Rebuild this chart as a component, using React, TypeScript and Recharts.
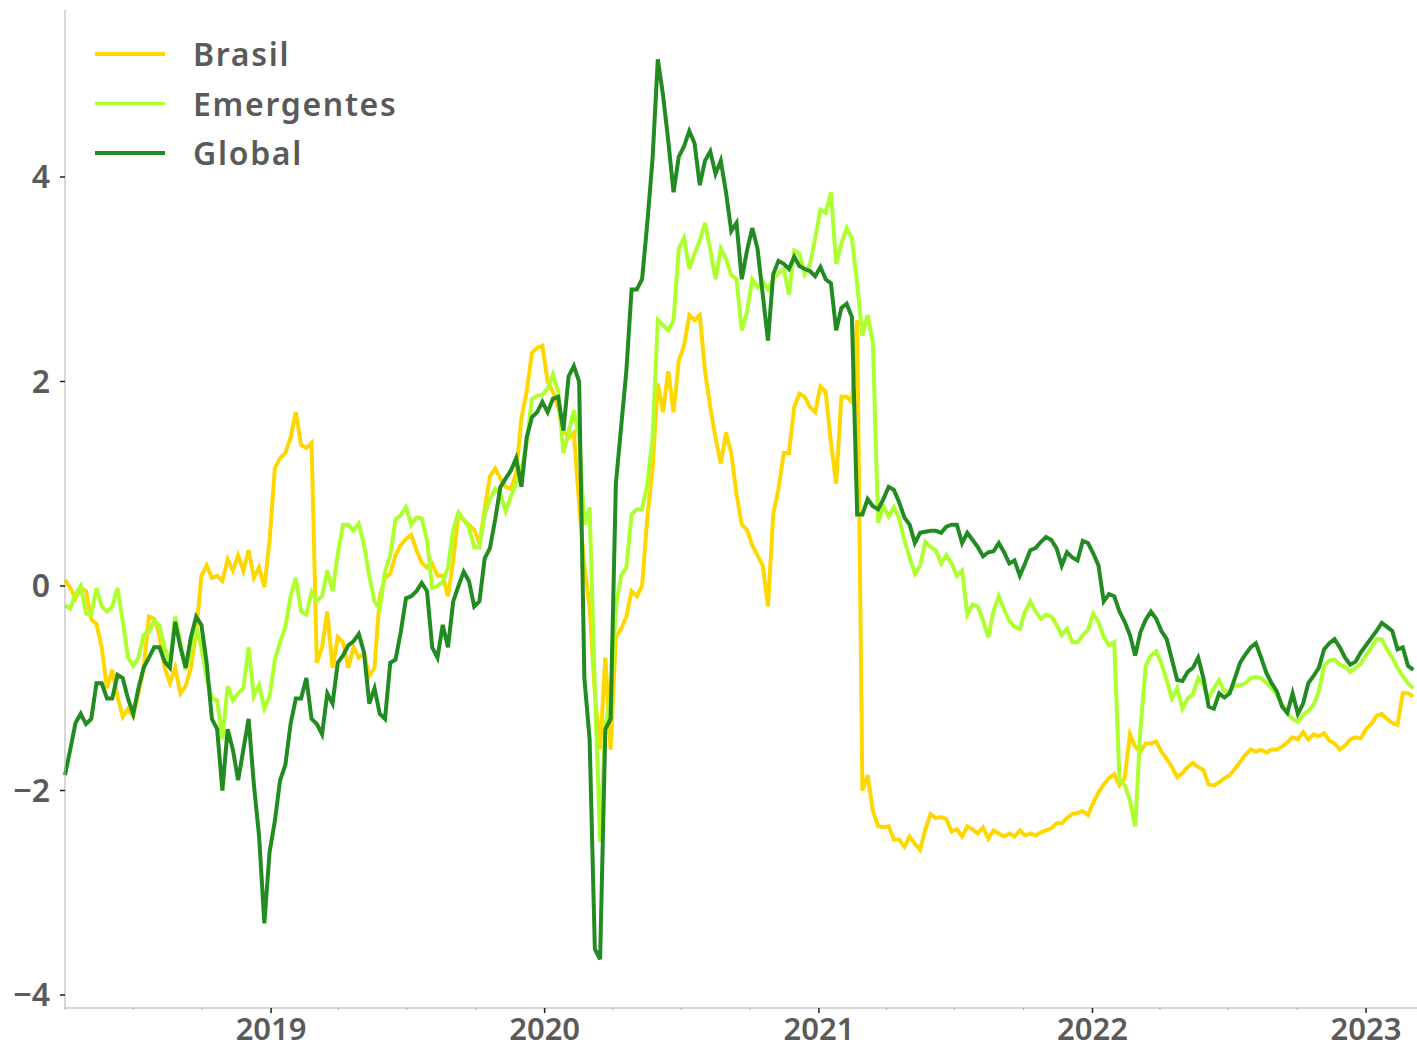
import React from 'react';
import { LineChart, Line, XAxis, YAxis, Legend } from 'recharts';

// weekly observations, first one on 2018-04-01
const brasil = [
  0.06, -0.02, -0.12, -0.02, -0.05, -0.33, -0.37, -0.6, -1.0, -0.82,
  -1.08, -1.28, -1.2, -1.27, -1.05, -0.8, -0.3, -0.32, -0.48, -0.8,
  -0.95, -0.8, -1.05, -0.98, -0.8, -0.45, 0.1, 0.2, 0.08, 0.1,
  0.05, 0.26, 0.15, 0.3, 0.15, 0.35, 0.08, 0.18, -0.01, 0.45,
  1.15, 1.25, 1.3, 1.45, 1.7, 1.38, 1.35, 1.4, -0.75, -0.6,
  -0.25, -0.8, -0.5, -0.55, -0.8, -0.6, -0.7, -0.66, -0.88, -0.8,
  -0.1, 0.08, 0.12, 0.3, 0.4, 0.46, 0.5, 0.35, 0.23, 0.18,
  0.22, 0.1, 0.1, -0.1, 0.25, 0.7, 0.64, 0.6, 0.55, 0.42,
  0.75, 1.07, 1.15, 1.05, 0.97, 0.95, 1.1, 1.64, 1.9, 2.28,
  2.33, 2.35, 2.0, 1.9, 1.75, 1.52, 1.45, 1.5, 0.8, 0.2,
  -0.2, -1.05, -1.6, -0.7, -1.6, -0.5, -0.42, -0.3, -0.05, -0.1,
  0.0, 0.67, 1.15, 1.98, 1.7, 2.1, 1.7, 2.2, 2.35, 2.65,
  2.6, 2.65, 2.1, 1.75, 1.45, 1.2, 1.5, 1.3, 0.9, 0.6,
  0.55, 0.4, 0.3, 0.2, -0.2, 0.7, 0.95, 1.3, 1.3, 1.75,
  1.88, 1.85, 1.75, 1.7, 1.95, 1.9, 1.4, 1.0, 1.85, 1.85,
  1.8, 2.6, -2.0, -1.85, -2.2, -2.35, -2.36, -2.35, -2.48, -2.48,
  -2.55, -2.45, -2.52, -2.58, -2.38, -2.23, -2.27, -2.26, -2.28, -2.4,
  -2.38, -2.45, -2.35, -2.38, -2.42, -2.36, -2.47, -2.39, -2.42, -2.45,
  -2.42, -2.45, -2.39, -2.44, -2.42, -2.44, -2.41, -2.39, -2.37, -2.32,
  -2.32, -2.27, -2.23, -2.22, -2.2, -2.24, -2.12, -2.02, -1.94, -1.88,
  -1.84, -1.95, -1.88, -1.45, -1.57, -1.62, -1.54, -1.54, -1.52, -1.62,
  -1.69, -1.77, -1.87, -1.83, -1.77, -1.73, -1.77, -1.8, -1.94, -1.95,
  -1.92, -1.88, -1.85, -1.79, -1.72, -1.65, -1.6, -1.62, -1.6, -1.63,
  -1.6, -1.6, -1.57, -1.53, -1.48, -1.5, -1.43, -1.5, -1.45, -1.47,
  -1.44, -1.51, -1.54, -1.6, -1.56, -1.5, -1.48, -1.49, -1.4, -1.35,
  -1.27, -1.25, -1.3, -1.34, -1.36, -1.05, -1.05, -1.08,
];

const emergentes = [
  -0.19, -0.22, -0.08, 0.0, -0.27, -0.28, -0.02, -0.2, -0.25, -0.2,
  -0.02, -0.34, -0.7, -0.78, -0.7, -0.48, -0.45, -0.34, -0.39, -0.6,
  -0.76, -0.3, -0.55, -0.82, -0.63, -0.4, -0.6, -0.9, -1.1, -1.12,
  -1.5, -0.98, -1.12, -1.05, -1.0, -0.6, -1.08, -0.97, -1.2, -1.08,
  -0.72, -0.55, -0.4, -0.1, 0.08, -0.25, -0.28, -0.06, -0.14, -0.1,
  0.15, -0.05, 0.32, 0.6, 0.6, 0.54, 0.61, 0.4, 0.1, -0.15,
  -0.22, 0.14, 0.3, 0.65, 0.69, 0.77, 0.6, 0.67, 0.66, 0.45,
  -0.02, 0.0, 0.04, 0.18, 0.55, 0.72, 0.65, 0.57, 0.38, 0.38,
  0.7, 0.85, 0.95, 0.9, 0.73, 0.88, 1.0, 1.14, 1.4, 1.83,
  1.86, 1.87, 1.93, 2.07, 1.9, 1.3, 1.5, 1.72, 1.45, 0.6,
  0.77, -1.0, -2.5, -1.35, -1.1, -0.2, 0.1, 0.18, 0.7, 0.75,
  0.75, 1.0, 1.45, 2.6, 2.55, 2.5, 2.6, 3.3, 3.4, 3.1,
  3.25, 3.38, 3.55, 3.29, 3.0, 3.3, 3.2, 3.04, 3.0, 2.5,
  2.68, 3.0, 2.92, 2.98, 2.9, 3.0, 3.06, 3.1, 2.85, 3.28,
  3.25, 3.05, 3.15, 3.4, 3.68, 3.65, 3.85, 3.15, 3.35, 3.5,
  3.4, 2.95, 2.45, 2.65, 2.38, 0.62, 0.78, 0.68, 0.77, 0.66,
  0.45, 0.28, 0.12, 0.2, 0.43, 0.38, 0.35, 0.22, 0.3, 0.22,
  0.1, 0.15, -0.28, -0.18, -0.2, -0.34, -0.5, -0.24, -0.1, -0.23,
  -0.34, -0.4, -0.42, -0.25, -0.15, -0.25, -0.32, -0.28, -0.3, -0.38,
  -0.48, -0.42, -0.55, -0.55, -0.48, -0.43, -0.27, -0.35, -0.5, -0.58,
  -0.55, -1.9, -1.95, -2.1, -2.35, -1.4, -0.78, -0.68, -0.64, -0.76,
  -0.92, -1.1, -1.0, -1.2, -1.1, -1.06, -0.9, -0.97, -1.1, -1.0,
  -0.92, -1.03, -1.03, -0.97, -0.97, -0.95, -0.9, -0.89, -0.9, -0.95,
  -1.0, -1.06, -1.16, -1.25, -1.3, -1.33, -1.26, -1.22, -1.16, -1.03,
  -0.78, -0.73, -0.72, -0.77, -0.79, -0.84, -0.8, -0.76, -0.68, -0.6,
  -0.52, -0.52, -0.62, -0.7, -0.8, -0.88, -0.95, -1.0,
];

const global = [
  -1.85, -1.6, -1.34, -1.25, -1.35, -1.3, -0.95, -0.95, -1.1, -1.1,
  -0.87, -0.9, -1.1, -1.25, -1.0, -0.8, -0.7, -0.6, -0.6, -0.74,
  -0.8, -0.35, -0.6, -0.8, -0.5, -0.3, -0.38, -0.75, -1.3, -1.4,
  -2.0, -1.4, -1.6, -1.9, -1.6, -1.3, -1.94, -2.45, -3.3, -2.6,
  -2.3, -1.9, -1.75, -1.35, -1.1, -1.1, -0.9, -1.3, -1.35, -1.45,
  -1.05, -1.15, -0.75, -0.68, -0.58, -0.54, -0.47, -0.65, -1.15, -1.0,
  -1.25, -1.3, -0.75, -0.72, -0.45, -0.12, -0.1, -0.05, 0.03, -0.05,
  -0.6, -0.7, -0.38, -0.6, -0.15, 0.0, 0.14, 0.05, -0.2, -0.15,
  0.27, 0.37, 0.65, 0.97, 1.05, 1.13, 1.25, 0.97, 1.45, 1.65,
  1.7, 1.8, 1.7, 1.83, 1.85, 1.52, 2.05, 2.15, 2.0, -0.9,
  -1.5, -3.55, -3.65, -1.4, -1.3, 1.0, 1.55, 2.1, 2.9, 2.9,
  3.0, 3.55, 4.18, 5.15, 4.8, 4.35, 3.85, 4.2, 4.3, 4.45,
  4.33, 3.92, 4.16, 4.25, 4.03, 4.16, 3.85, 3.47, 3.55, 3.0,
  3.28, 3.5, 3.3, 2.85, 2.4, 3.05, 3.18, 3.15, 3.1, 3.22,
  3.13, 3.1, 3.08, 3.03, 3.12, 3.0, 2.96, 2.5, 2.72, 2.76,
  2.63, 0.7, 0.7, 0.85, 0.78, 0.75, 0.85, 0.97, 0.94, 0.82,
  0.67, 0.6, 0.42, 0.52, 0.53, 0.54, 0.54, 0.52, 0.58, 0.6,
  0.6, 0.42, 0.52, 0.45, 0.38, 0.29, 0.33, 0.34, 0.42, 0.33,
  0.22, 0.25, 0.1, 0.22, 0.35, 0.37, 0.43, 0.48, 0.45, 0.37,
  0.2, 0.33, 0.28, 0.25, 0.44, 0.42, 0.32, 0.2, -0.15, -0.08,
  -0.1, -0.25, -0.35, -0.48, -0.68, -0.45, -0.33, -0.25, -0.32, -0.44,
  -0.52, -0.72, -0.92, -0.93, -0.84, -0.8, -0.7, -0.9, -1.18, -1.2,
  -1.05, -1.09, -1.05, -0.9, -0.75, -0.67, -0.6, -0.56, -0.7, -0.85,
  -0.95, -1.03, -1.18, -1.24, -1.05, -1.25, -1.15, -0.95, -0.88, -0.8,
  -0.62, -0.56, -0.52, -0.6, -0.7, -0.77, -0.74, -0.65, -0.58, -0.51,
  -0.44, -0.36, -0.4, -0.44, -0.62, -0.6, -0.78, -0.82,
];

const seriesNames = ['Brasil', 'Emergentes', 'Global'];
const seriesKeys = ['brasil', 'emergentes', 'global'];
const seriesColors = ['#FFD700', '#ADFF2F', '#228B22'];

const yearLabels = ['2019', '2020', '2021', '2022', '2023'];
const yTicks = [-4, -2, 0, 2, 4];

const DAY = 86400000;
const START = Date.UTC(2018, 3, 1);
const END = Date.UTC(2023, 2, 10);
const dayOf = (y: number, m: number) => (Date.UTC(y, m, 1) - START) / DAY;

const data = brasil.map((b, i) => ({
  d: i * 7,
  brasil: b,
  emergentes: emergentes[i],
  global: global[i],
}));

const majorTicks = yearLabels.map(y => dayOf(Number(y), 0));
const allTicks: number[] = [];
for (let y = 2018; y <= 2023; y++) {
  for (const m of [0, 3, 6, 9]) {
    const d = dayOf(y, m);
    if (d >= 0 && d <= (END - START) / DAY) allTicks.push(d);
  }
}

const FONT = '"Noto Sans", sans-serif';
const TEXT = '#5a5a5a';

const XTick = (props: any) => {
  const { x, y, payload } = props;
  const idx = majorTicks.indexOf(payload.value);
  const major = idx >= 0;
  return (
    <g>
      <line x1={x} x2={x} y1={y} y2={y + (major ? 5 : 2)} stroke={major ? '#222' : '#aaa'} strokeWidth={major ? 1.5 : 1} />
      {major && (
        <text x={x} y={y + 32} textAnchor="middle" fill={TEXT} fontSize={31} fontFamily={FONT} fontWeight={600}>
          {yearLabels[idx]}
        </text>
      )}
    </g>
  );
};

const LegendBox = () => (
  <div style={{ fontFamily: FONT }}>
    {seriesNames.map((name, i) => (
      <div key={name} style={{ display: 'flex', alignItems: 'center', height: 49.5 }}>
        <div style={{ width: 70, height: 3.5, background: seriesColors[i] }} />
        <span style={{ marginLeft: 28, fontSize: 32, color: TEXT, letterSpacing: 1.7, fontWeight: 600 }}>{name}</span>
      </div>
    ))}
  </div>
);

export default function App() {
  return (
    <div style={{ position: 'absolute', left: 0, top: 0, background: '#fff' }}>
      <LineChart width={1417} height={1049} data={data} margin={{ top: 10, right: 0, bottom: 0, left: 0 }}>
        <XAxis
          dataKey="d"
          type="number"
          domain={[0, (END - START) / DAY]}
          ticks={allTicks}
          tick={<XTick />}
          tickLine={false}
          tickSize={0}
          tickMargin={0}
          interval={0}
          stroke="#b0b0b0"
          height={41}
        />
        <YAxis
          type="number"
          domain={[-4.127, 5.633]}
          ticks={yTicks}
          width={65}
          stroke="#b0b0b0"
          tickSize={5}
          tickMargin={10}
          tickLine={{ stroke: '#222', strokeWidth: 1.5 }}
          tickFormatter={(v: number) => String(v).replace('-', '\u2212')}
          tick={{ fill: TEXT, fontSize: 32, fontFamily: FONT, fontWeight: 600 }}
        />
        <Legend
          layout="horizontal"
          verticalAlign="middle"
          align="center"
          content={<LegendBox />}
          wrapperStyle={{ position: 'absolute', left: 95, top: 29, width: 'auto' }}
        />
        {seriesKeys.map((k, i) => (
          <Line
            key={k}
            type="linear"
            dataKey={k}
            name={seriesNames[i]}
            stroke={seriesColors[i]}
            strokeWidth={4}
            dot={false}
            isAnimationActive={false}
          />
        ))}
      </LineChart>
    </div>
  );
}
